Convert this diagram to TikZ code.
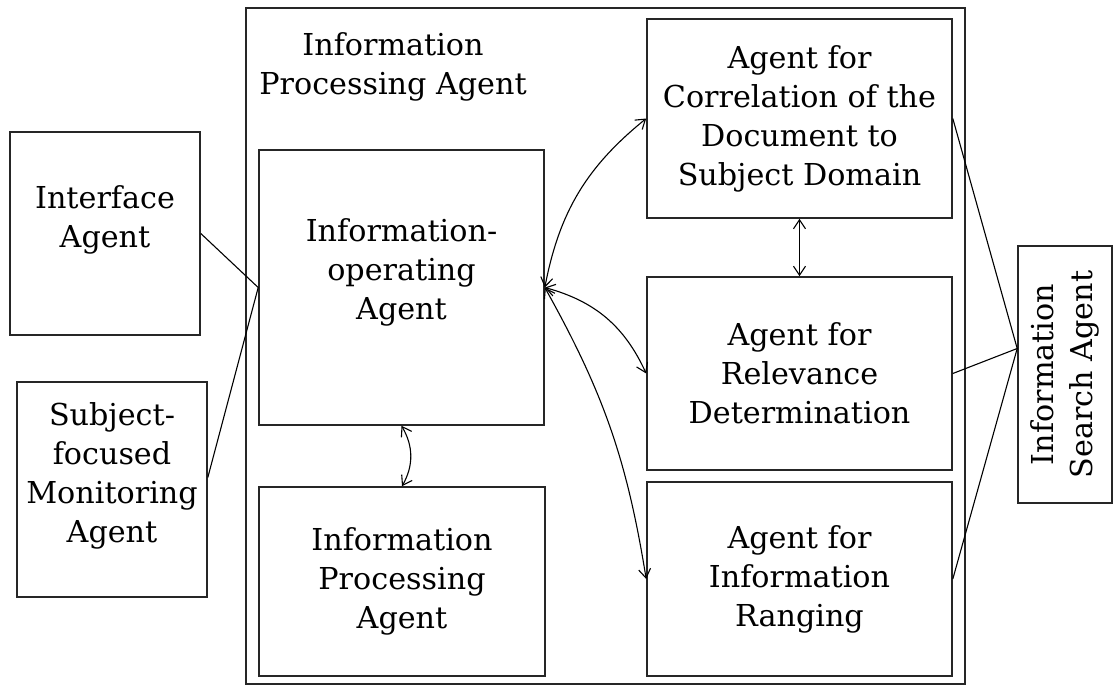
\documentclass[tikz,border=0pt]{standalone}
\usepackage{fontspec}
\setmainfont{DejaVu Serif}
\usepackage{tikz}
\usetikzlibrary{positioning,arrows.meta,calc}

\begin{document}
\begin{tikzpicture}
	[x=1pt,y=-1pt,
	every node/.style={font=\fontsize{30.2}{39}\selectfont,align=center,inner sep=0pt},
	agent/.style={draw=black!85,line width=1.6pt},
	link/.style={line width=1.1pt},
	dual/.style={line width=1.1pt,{Straight Barb[length=9pt,width=12pt]}-{Straight Barb[length=9pt,width=12pt]}}]
	\useasboundingbox (0,0) rectangle (1114,686);
	\draw[agent] (246,8) rectangle (965,684);
	\node (title) at (393,67) {Information\\Processing Agent};
	\node[agent,minimum width=190,minimum height=203] (iface) at (105,233.5) {};
	\node (ifacetxt) at (105,220) {Interface\\Agent};
	\node[agent,minimum width=190,minimum height=215] (subj) at (112,489.5) {};
	\node (subjtxt) at (112,476) {Subject-\\focused\\Monitoring\\Agent};
	\node[agent,minimum width=285,minimum height=275] (oper) at (401.5,287.5) {};
	\node (opertxt) at (401.5,272) {Information-\\operating\\Agent};
	\node[agent,minimum width=286,minimum height=189] (proc) at (402,581.5) {Information\\Processing\\Agent};
	\node[agent,minimum width=305,minimum height=199] (corr) at (799.5,118.5) {Agent for\\Correlation of the\\Document to\\Subject Domain};
	\node[agent,minimum width=305,minimum height=193] (rel) at (799.5,373.5) {Agent for\\Relevance\\Determination};
	\node[agent,minimum width=305,minimum height=194] (rang) at (799.5,579) {Agent for\\Information\\Ranging};
	\node[agent,rotate=90,minimum width=257,minimum height=94] (search) at (1065,374.5) {Information\\Search Agent};
	\coordinate (hub) at ($(search.north)+(0,-26)$);
	\draw[link] (iface.east) -- (oper.west) -- ($(subj.east)+(0,-12)$);
	\draw[link] (corr.east) -- (hub) -- (rang.east);
	\draw[link] (rel.east) -- (hub);
	\draw[dual] (oper.east) to[bend left=20] (corr.west);
	\draw[dual] (oper.east) to[bend left=25] (rel.west);
	\draw[dual] (oper.east) to[bend left=10] (rang.west);
	\draw[dual] (oper.south) to[bend left=30] (proc.north);
	\draw[dual] (corr.south) -- (rel.north);
\end{tikzpicture}
\end{document}
